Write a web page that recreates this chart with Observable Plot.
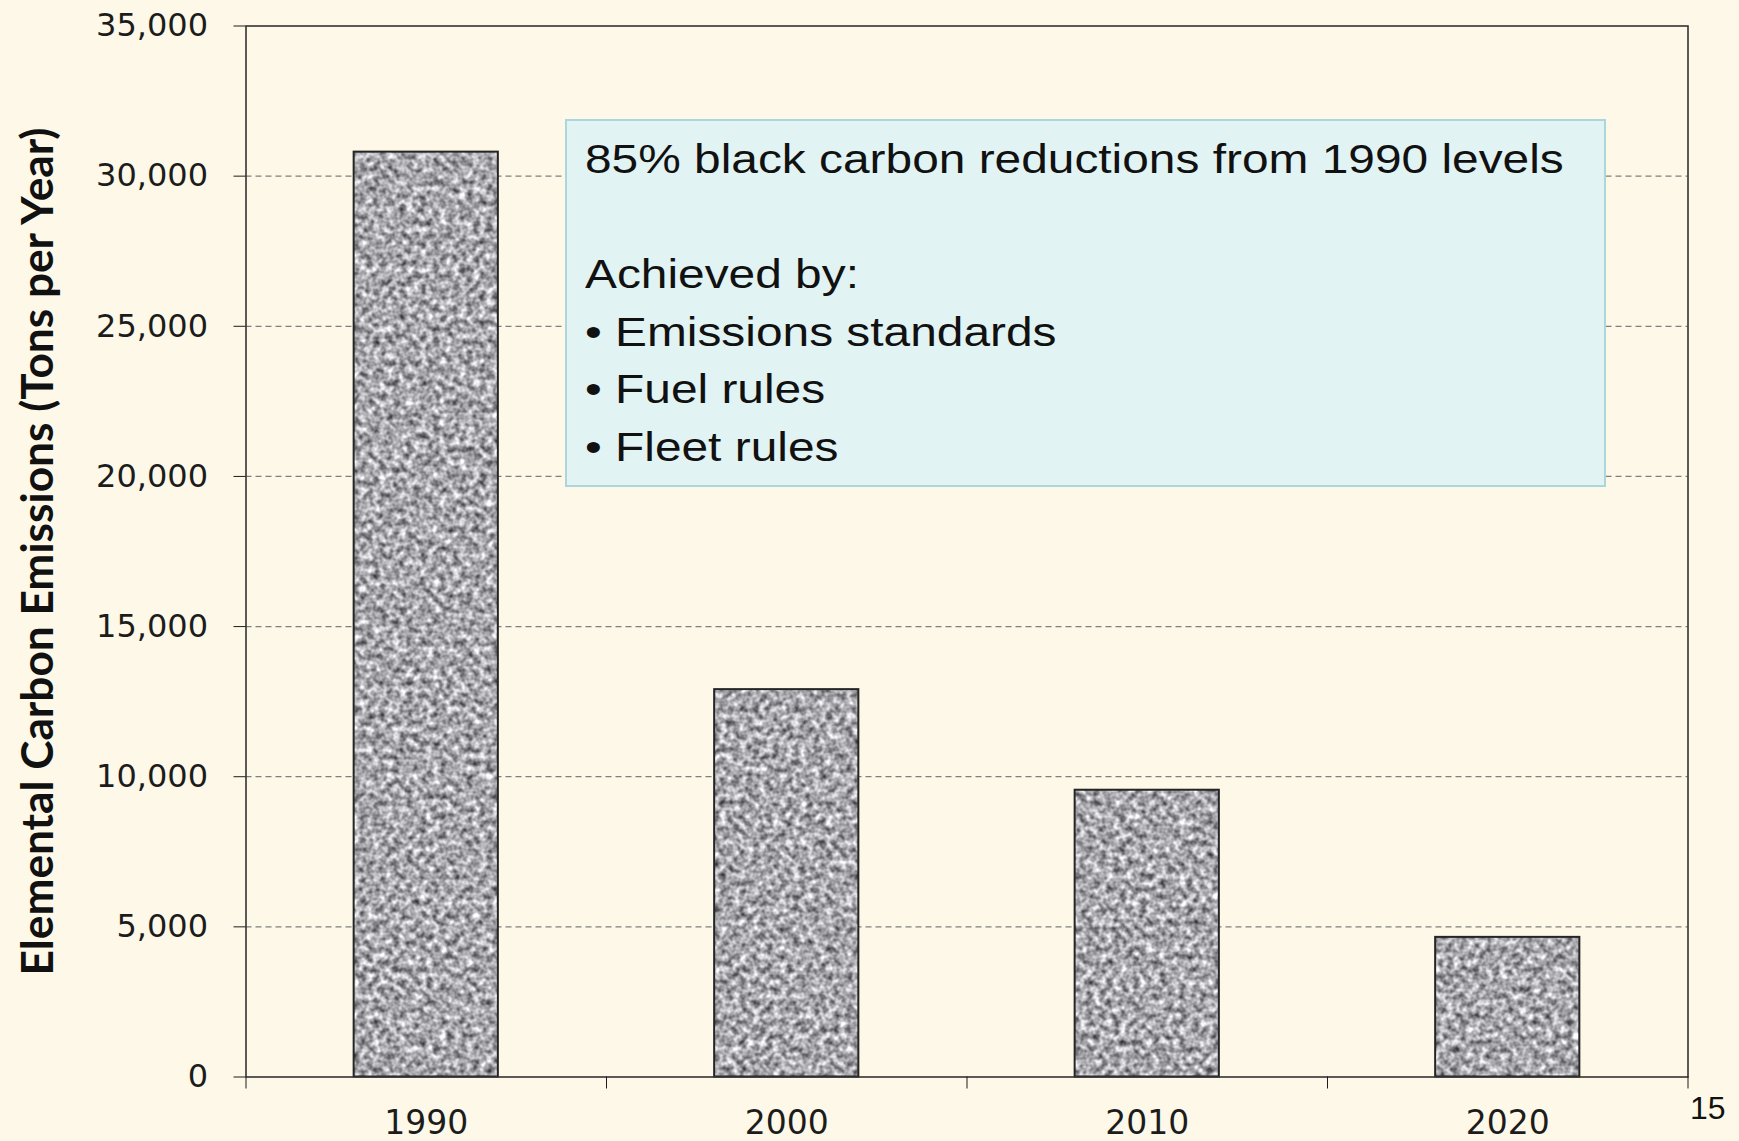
<!DOCTYPE html>
<html>
<head>
<meta charset="utf-8">
<script src="https://cdn.jsdelivr.net/npm/d3@7"></script>
<script src="https://cdn.jsdelivr.net/npm/@observablehq/plot@0.6"></script>
<style>
  html, body { margin: 0; padding: 0; background: #fdf8e7; }
  #slide { position: relative; width: 1739px; height: 1141px; background: #fdf8e7; overflow: hidden; }
  #slide svg { position: absolute; left: 0; top: 0; }
  #note {
    position: absolute; left: 565px; top: 119px; width: 1041px; height: 368px;
    box-sizing: border-box; background: #e2f3f3; border: 2px solid #aad6dc;
  }
  #note .lines {
    position: absolute; left: 18px; top: 10px;
    transform: scaleX(1.167); transform-origin: 0 0;
    font-family: "Liberation Sans", Arial, sans-serif; font-size: 41px; line-height: 57.5px;
    color: #111; white-space: pre;
  }
  #page {
    position: absolute; left: 1690px; top: 1092px;
    font-family: "Liberation Sans", Arial, sans-serif; font-size: 32px; line-height: 32px; color: #111;
  }
</style>
</head>
<body>
<div id="slide"></div>
<script>
// Elemental (black) carbon emissions by year, tons per year
const years = [1990, 2000, 2010, 2020];
const emissions = [30800, 12900, 9550, 4650];

// Axis ticks
const yTicks = [0, 5000, 10000, 15000, 20000, 25000, 30000, 35000];
const gridTicks = [5000, 10000, 15000, 20000, 25000, 30000];
const categoryEdges = [1985, 1995, 2005, 2015, 2025];

const yTitle = "Elemental Carbon Emissions (Tons per Year)";
const noteLines = [
  "85% black carbon reductions from 1990 levels",
  "",
  "Achieved by:",
  "\u2022 Emissions standards",
  "\u2022 Fuel rules",
  "\u2022 Fleet rules"
];
const pageNumber = "15";

const data = years.map((year, i) => ({year, value: emissions[i]}));

const W = 1739, H = 1141;

const chart = Plot.plot({
  width: W,
  height: H,
  marginLeft: 245.5,
  marginRight: 51.5,
  marginTop: 25.5,
  marginBottom: 64.5,
  style: {background: "transparent", fontFamily: "'DejaVu Sans', Verdana, sans-serif", fontSize: "32px", color: "#1c1c1c"},
  x: {type: "linear", domain: [1985, 2025]},
  y: {domain: [0, 35000]},
  marks: [
    Plot.gridY(gridTicks, {stroke: "#7f7f7f", strokeOpacity: 1, strokeWidth: 1.3, strokeDasharray: "6,4"}),
    // each bar spans 40% of its decade-wide category
    Plot.rectY(data, {
      x1: d => d.year - 2,
      x2: d => d.year + 2,
      y: "value",
      fill: "url(#granite)",
      stroke: "#252525",
      strokeWidth: 2
    }),
    Plot.frame({stroke: "#333", strokeWidth: 1.6}),
    Plot.axisY(yTicks, {tickSize: 12, tickPadding: 26, tickFormat: d3.format(","), label: null, fontSize: 32}),
    Plot.axisX(categoryEdges, {tickSize: 12, tickFormat: () => "", label: null}),
    Plot.axisX(years, {tickSize: 0, tickPadding: 34, tickFormat: d => String(d), label: null, fontSize: 33}),
    Plot.text([yTitle], {
      frameAnchor: "left",
      textAnchor: "middle",
      dx: -206.5,
      rotate: -90,
      fontFamily: "Lato, 'Open Sans', sans-serif",
      fontWeight: "bold",
      fontSize: 43,
      fill: "#111"
    })
  ]
});

// granite texture used as the bar fill
const svgNS = "http://www.w3.org/2000/svg";
const defs = document.createElementNS(svgNS, "defs");
defs.innerHTML = `
  <filter id="graniteNoise" filterUnits="userSpaceOnUse" x="0" y="0" width="${W}" height="${H}" color-interpolation-filters="sRGB">
    <feTurbulence type="fractalNoise" baseFrequency="0.15" numOctaves="2" seed="7" result="noise"/>
    <feGaussianBlur in="noise" stdDeviation="0.7" result="soft"/>
    <feColorMatrix in="soft" type="matrix" values="1.15 0 0 0 0.08  1.15 0 0 0 0.08  1.15 0 0 0 0.10  0 0 0 0 1"/>
  </filter>
  <pattern id="granite" patternUnits="userSpaceOnUse" x="0" y="0" width="${W}" height="${H}">
    <rect width="${W}" height="${H}" fill="#fff" filter="url(#graniteNoise)"/>
  </pattern>`;
chart.insertBefore(defs, chart.firstChild);

const slide = document.getElementById("slide");
slide.appendChild(chart);

// fit the rotated axis title to its span along the axis
for (const t of chart.querySelectorAll("text")) {
  if (t.textContent === yTitle) {
    t.setAttribute("textLength", 848);
    t.setAttribute("lengthAdjust", "spacingAndGlyphs");
  }
}

const note = document.createElement("div");
note.id = "note";
const lines = document.createElement("div");
lines.className = "lines";
lines.textContent = noteLines.join("\n");
note.appendChild(lines);
slide.appendChild(note);

const page = document.createElement("div");
page.id = "page";
page.textContent = pageNumber;
slide.appendChild(page);
</script>
</body>
</html>
